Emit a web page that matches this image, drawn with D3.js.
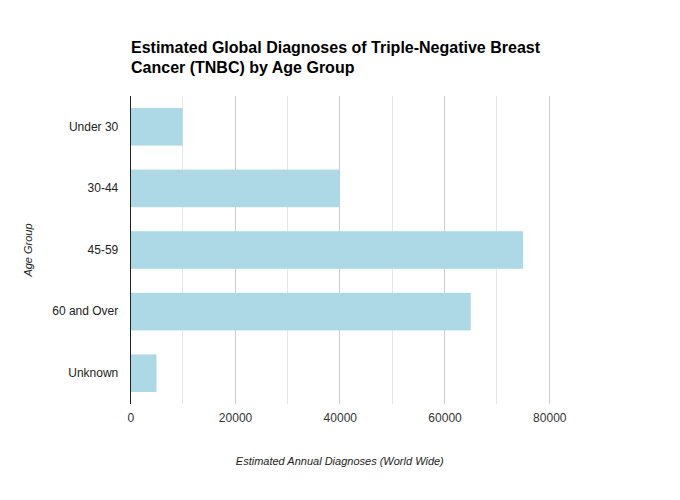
<!DOCTYPE html>
<html>
<head>
<meta charset="utf-8">
<script src="https://cdn.jsdelivr.net/npm/d3@7"></script>
<style>
  html, body { margin: 0; padding: 0; background: #fff; }
  svg { display: block; font-family: "Liberation Sans", Arial, sans-serif; }
</style>
</head>
<body>
<svg id="chart" width="680" height="500"></svg>
<script>
const categories = ["Under 30", "30-44", "45-59", "60 and Over", "Unknown"];
const values = [10000, 40000, 75000, 65000, 5000];
const xTickLabels = [0, 20000, 40000, 60000, 80000];
const gridValues = [10000, 20000, 30000, 40000, 50000, 60000, 70000, 80000];
const titleLines = ["Estimated Global Diagnoses of Triple-Negative Breast", "Cancer (TNBC) by Age Group"];
const xTitle = "Estimated Annual Diagnoses (World Wide)";
const yTitle = "Age Group";

const svg = d3.select("#chart");
const pLeft = 130.3, pRight = 549.3, pTop = 96, pBottom = 404;

const x = d3.scaleLinear().domain([0, 80000]).range([pLeft, pRight]);
const y = d3.scaleBand().domain(categories).range([pTop, pBottom]).paddingInner(0.39).paddingOuter(0.195);

// grid
svg.append("g").selectAll("line").data(gridValues).join("line")
  .attr("x1", d => x(d)).attr("x2", d => x(d))
  .attr("y1", pTop).attr("y2", pBottom)
  .attr("stroke", d => (d % 20000 === 0) ? "#cccccc" : "#e6e6e6")
  .attr("stroke-width", 1)
  .attr("shape-rendering", "crispEdges");

// bars
svg.append("g").selectAll("rect").data(categories).join("rect")
  .attr("x", x(0))
  .attr("y", d => y(d))
  .attr("width", (d, i) => x(values[i]) - x(0))
  .attr("height", y.bandwidth())
  .attr("fill", "#ADD8E6");

// y axis line
svg.append("line")
  .attr("x1", x(0)).attr("x2", x(0))
  .attr("y1", pTop).attr("y2", pBottom)
  .attr("stroke", "#222").attr("stroke-width", 1)
  .attr("shape-rendering", "crispEdges");

// x axis labels
const xAxis = d3.axisBottom(x).tickValues(xTickLabels).tickSize(0).tickPadding(0).tickFormat(d3.format("d"));
const gx = svg.append("g").attr("transform", `translate(0,${pBottom})`).call(xAxis);
gx.select(".domain").remove();
gx.selectAll("text").attr("dy", null).attr("y", 18).attr("font-size", 12)
  .attr("fill", "#333").attr("font-family", "Liberation Sans, Arial, sans-serif");

// y axis labels
const yAxis = d3.axisLeft(y).tickSize(0).tickPadding(12);
const gy = svg.append("g").attr("transform", `translate(${pLeft},0)`).call(yAxis);
gy.select(".domain").remove();
gy.selectAll("text").attr("font-size", 12).attr("fill", "#222")
  .attr("font-family", "Liberation Sans, Arial, sans-serif");

// title
svg.append("text")
  .attr("x", 131).attr("y", 53)
  .attr("font-size", 16).attr("font-weight", "bold").attr("fill", "#000")
  .selectAll("tspan").data(titleLines).join("tspan")
  .attr("x", 131).attr("dy", (d, i) => i === 0 ? 0 : 19.5)
  .text(d => d);

// x title
svg.append("text")
  .attr("x", (pLeft + pRight) / 2).attr("y", 465)
  .attr("text-anchor", "middle").attr("font-size", 11).attr("font-style", "italic")
  .attr("fill", "#222").text(xTitle);

// y title
svg.append("text")
  .attr("transform", `translate(32,${(pTop + pBottom) / 2}) rotate(-90)`)
  .attr("text-anchor", "middle").attr("font-size", 11).attr("font-style", "italic")
  .attr("fill", "#222").text(yTitle);
</script>
</body>
</html>
